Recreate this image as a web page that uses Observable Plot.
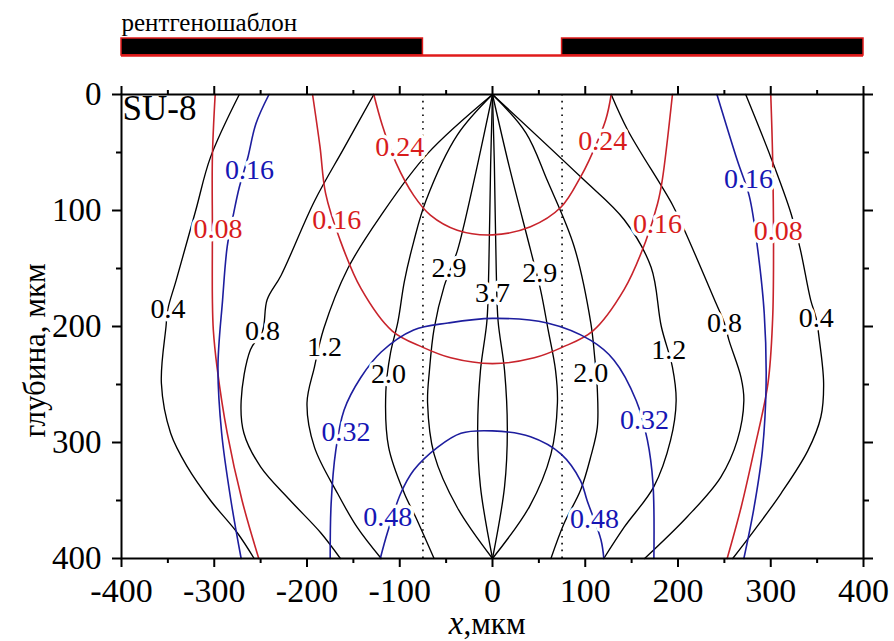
<!DOCTYPE html>
<html>
<head>
<meta charset="utf-8">
<script src="https://cdn.jsdelivr.net/npm/d3@7"></script>
<script src="https://cdn.jsdelivr.net/npm/@observablehq/plot@0.6"></script>
<style>
  html, body { margin: 0; padding: 0; background: #fff; }
  #chart { width: 894px; }
  #chart svg { display: block; }
  #chart svg text { font-family: 'Liberation Serif', 'Times New Roman', serif; }
</style>
</head>
<body>
<div id="chart"></div>
<script>
// ---- X-ray mask: opaque absorber segments (x, мкм) ----
const maskAbsorbers = [[-400, -75], [75, 400]];
const maskEdges = [-75, 75];

// ---- Axis ticks ----
const xMajor = [-400, -300, -200, -100, 0, 100, 200, 300, 400];
const xMinor = [-350, -250, -150, -50, 50, 150, 250, 350];
const yMajor = [0, 100, 200, 300, 400];
const yMinor = [50, 150, 250, 350];

// ---- Isodose contours: [x, depth] in мкм ----
// black: absorbed dose levels
const black04L = [[-273,0],[-304,54],[-320,100],[-341,160],[-350,185],[-352,200],[-357,249],[-347,292],[-329,321],[-304,350],[-275,378],[-257,400]];
const black04R = [[273,0],[300,54],[322,103],[332,134],[343,177],[349,193],[352,209],[357,249],[354,278],[340,307],[311,344],[282,376],[259,400]];
const black08L = [[-128,0],[-160,46],[-192,92],[-228,156],[-243,177],[-248,204],[-261,220],[-271,264],[-268,292],[-250,321],[-218,350],[-185,378],[-164,400]];
const black08R = [[128,0],[146,31],[194,95],[207,117],[241,180],[250,197],[255,212],[268,244],[271,264],[264,298],[246,330],[210,364],[164,400]];
const black12L = [[0,0],[-70,51],[-120,104],[-156,150],[-182,202],[-192,235],[-200,266],[-192,304],[-167,344],[-146,373],[-120,400]];
const black12R = [[0,0],[95,71],[142,108],[171,149],[182,200],[194,235],[198,264],[192,298],[174,338],[142,373],[120,400]];
const black20L = [[0,0],[-38,35],[-72,92],[-85,127],[-95,161],[-102,196],[-110,223],[-115,256],[-112,304],[-95,344],[-83,364],[-63,400]];
const black20R = [[0,0],[36,33],[59,74],[88,131],[106,197],[110,225],[113,254],[113,287],[106,312],[95,341],[77,370],[63,400]];
const black29L = [[0,0],[-16,60],[-30,110],[-38,135],[-52,165],[-63,202],[-68,238],[-70,266],[-63,310],[-38,356],[0,400]];
const black29R = [[0,0],[18,62],[41,134],[52,169],[60,203],[68,238],[70,266],[63,310],[40,355],[0,400]];
const black37L = [[0,0],[-2,60],[-4,150],[-6,195],[-13,238],[-16,289],[-13,338],[0,400]];
const black37R = [[0,0],[2,60],[4,150],[6,195],[13,238],[16,289],[13,338],[0,400]];

// red: energy levels
const red008L = [[-299,0],[-302,54],[-302,116],[-302,177],[-301,203],[-297,235],[-286,292],[-270,350],[-252,400]];
const red008R = [[300,0],[302,54],[303,137],[302,194],[297,249],[282,307],[268,356],[253,400]];
const red016 = [[-194,0],[-186,45],[-180,85],[-165,124],[-142,167],[-108,204],[-75,218],[-45,227],[0,232],[45,227],[75,218],[108,204],[142,168],[165,127],[178,94],[183,74],[194,0]];
const red024 = [[-128,0],[-119,26],[-104,59],[-85,87],[-67,104],[-38,117],[0,121],[41,114],[74,97],[95,71],[104,57],[122,22],[128,0]];

// blue: energy levels
const blue016L = [[-241,0],[-255,25],[-264,55],[-273,80],[-279,102],[-286,131],[-291,177],[-296,235],[-292,292],[-282,350],[-271,400]];
const blue016R = [[242,0],[264,57],[277,88],[286,134],[293,189],[295,249],[291,307],[282,356],[271,400]];
const blue032 = [[-175,400],[-174,353],[-169,307],[-160,272],[-142,244],[-120,222],[-85,203],[-48,197],[0,193],[59,197],[106,212],[131,229],[155,264],[167,298],[173,335],[174,400]];
const blue048 = [[-121,400],[-113,377],[-99,344],[-85,324],[-59,304],[-34,292],[0,290],[41,295],[74,310],[95,333],[102,350],[117,384],[120,400]];

// ---- Contour label positions: [level, x, depth] ----
const blackLabels = [[0.4,-350,185],[0.4,349,193],[0.8,-248,204],[0.8,250,197],[1.2,-181,218],[1.2,190,220],[2.0,-112,241],[2.0,106,240],[2.9,-47,150],[2.9,51,154],[3.7,0,171]];
const redLabels = [[0.08,-296,116],[0.08,308,118],[0.16,-168,108],[0.16,178,112],[0.24,-100,45],[0.24,119,40]];
const blueLabels = [[0.16,-262,65],[0.16,276,73],[0.32,-158,291],[0.32,164,281],[0.48,-113,364],[0.48,110,366]];

const COLORS = {black: "#000000", red: "#c8232b", blue: "#1d1d9e"};
const LABEL_COLORS = {black: "#000000", red: "#d81c1c", blue: "#1616b4"};
const SERIF = "'Liberation Serif', 'Times New Roman', serif";

const contours = [
  {level: 0.4, color: "black", pts: black04L}, {level: 0.4, color: "black", pts: black04R},
  {level: 0.8, color: "black", pts: black08L}, {level: 0.8, color: "black", pts: black08R},
  {level: 1.2, color: "black", pts: black12L}, {level: 1.2, color: "black", pts: black12R},
  {level: 2.0, color: "black", pts: black20L}, {level: 2.0, color: "black", pts: black20R},
  {level: 2.9, color: "black", pts: black29L}, {level: 2.9, color: "black", pts: black29R},
  {level: 3.7, color: "black", pts: black37L}, {level: 3.7, color: "black", pts: black37R},
  {level: 0.08, color: "red", pts: red008L}, {level: 0.08, color: "red", pts: red008R},
  {level: 0.16, color: "red", pts: red016}, {level: 0.24, color: "red", pts: red024},
  {level: 0.16, color: "blue", pts: blue016L}, {level: 0.16, color: "blue", pts: blue016R},
  {level: 0.32, color: "blue", pts: blue032}, {level: 0.48, color: "blue", pts: blue048}
];

const rows = contours.flatMap((c, i) => c.pts.map(([x, d]) => ({id: i, color: c.color, x, d})));

const labels = [
  ...blackLabels.map(([v, x, d]) => ({text: v.toFixed(1), color: "black", x, d})),
  ...redLabels.map(([v, x, d]) => ({text: v.toFixed(2), color: "red", x, d})),
  ...blueLabels.map(([v, x, d]) => ({text: v.toFixed(2), color: "blue", x, d}))
];

const M_LEFT = 121, M_RIGHT = 31;

// ---- Mask strip above the plot ----
const maskPlot = Plot.plot({
  width: 894, height: 70,
  marginLeft: M_LEFT, marginRight: M_RIGHT, marginTop: 38, marginBottom: 15,
  x: {domain: [-400, 400], axis: null},
  y: {domain: [0, 1], axis: null},
  style: {fontFamily: SERIF, background: "white"},
  marks: [
    Plot.rect(maskAbsorbers, {x1: d => d[0], x2: d => d[1], y1: 0, y2: 1, fill: "black", stroke: "#e01b1b", strokeWidth: 1.5}),
    Plot.ruleY([0], {x1: -400, x2: 400, stroke: "#e01b1b", strokeWidth: 2.5}),
    Plot.text(["рентгеношаблон"], {text: d => d, frameAnchor: "top-left", textAnchor: "start", lineAnchor: "bottom", dx: 0, dy: -8, fontSize: 25, fontFamily: SERIF, fill: "black"})
  ]
});

// ---- Main isodose plot ----
const fmt = d => String(d);
const mainPlot = Plot.plot({
  width: 894, height: 571,
  marginLeft: M_LEFT, marginRight: M_RIGHT, marginTop: 24, marginBottom: 83,
  x: {domain: [-400, 400]},
  y: {domain: [0, 400], reverse: true},
  style: {fontFamily: SERIF, background: "white", color: "black"},
  marks: [
    Plot.ruleX(maskEdges, {y1: 0, y2: 400, stroke: "black", strokeWidth: 1.6, strokeDasharray: "1.6,5.2"}),
    Plot.line(rows.filter(r => r.color === "black"), {x: "x", y: "d", z: "id", stroke: COLORS.black, strokeWidth: 1.35, curve: "catmull-rom"}),
    Plot.line(rows.filter(r => r.color === "red"), {x: "x", y: "d", z: "id", stroke: COLORS.red, strokeWidth: 1.6, curve: "catmull-rom"}),
    Plot.line(rows.filter(r => r.color === "blue"), {x: "x", y: "d", z: "id", stroke: COLORS.blue, strokeWidth: 1.6, curve: "catmull-rom"}),
    ...["black", "red", "blue"].map(c =>
      Plot.text(labels.filter(l => l.color === c), {
        x: "x", y: "d", text: "text", fill: LABEL_COLORS[c], stroke: "white", strokeWidth: 7,
        paintOrder: "stroke", fontSize: 28, fontFamily: SERIF
      })
    ),
    Plot.frame({stroke: "black", strokeWidth: 2}),
    // bottom axis
    Plot.axisX({anchor: "bottom", ticks: xMajor, tickSize: 9, tickPadding: 10, tickFormat: fmt, fontSize: 34, fontFamily: SERIF, strokeWidth: 2, label: null}),
    Plot.axisX({anchor: "bottom", ticks: xMinor, tickSize: 5, tickFormat: () => "", strokeWidth: 2, label: null}),
    // top axis
    Plot.axisX({anchor: "top", ticks: xMajor, tickSize: 9, tickFormat: () => "", strokeWidth: 2, label: null}),
    Plot.axisX({anchor: "top", ticks: xMinor, tickSize: 5, tickFormat: () => "", strokeWidth: 2, label: null}),
    // left axis
    Plot.axisY({anchor: "left", ticks: yMajor, tickSize: 9, tickPadding: 11, tickFormat: fmt, fontSize: 33, fontFamily: SERIF, strokeWidth: 2, label: null}),
    Plot.axisY({anchor: "left", ticks: yMinor, tickSize: 5, tickFormat: () => "", strokeWidth: 2, label: null}),
    // right axis
    Plot.axisY({anchor: "right", ticks: yMajor, tickSize: 9, tickFormat: () => "", strokeWidth: 2, label: null}),
    Plot.axisY({anchor: "right", ticks: yMinor, tickSize: 5, tickFormat: () => "", strokeWidth: 2, label: null}),
    // material name
    Plot.text(["SU-8"], {text: d => d, frameAnchor: "top-left", textAnchor: "start", lineAnchor: "top", dx: 1, dy: 1, fontSize: 35, fontFamily: SERIF, fill: "black"}),
    // axis titles
    Plot.text(["глубина, мкм"], {text: d => d, frameAnchor: "left", textAnchor: "middle", rotate: -90, dx: -86, dy: 24, fontSize: 31, fontFamily: SERIF, fill: "black"}),
    Plot.text(["x"], {text: d => d, frameAnchor: "bottom", textAnchor: "end", lineAnchor: "bottom", dx: -29, dy: 75, fontSize: 33, fontStyle: "italic", fontFamily: SERIF, fill: "black"}),
    Plot.text([",мкм"], {text: d => d, frameAnchor: "bottom", textAnchor: "start", lineAnchor: "bottom", dx: -29, dy: 75, fontSize: 31, fontFamily: SERIF, fill: "black"})
  ]
});

const root = document.getElementById("chart");
root.appendChild(maskPlot);
root.appendChild(mainPlot);
</script>
</body>
</html>
